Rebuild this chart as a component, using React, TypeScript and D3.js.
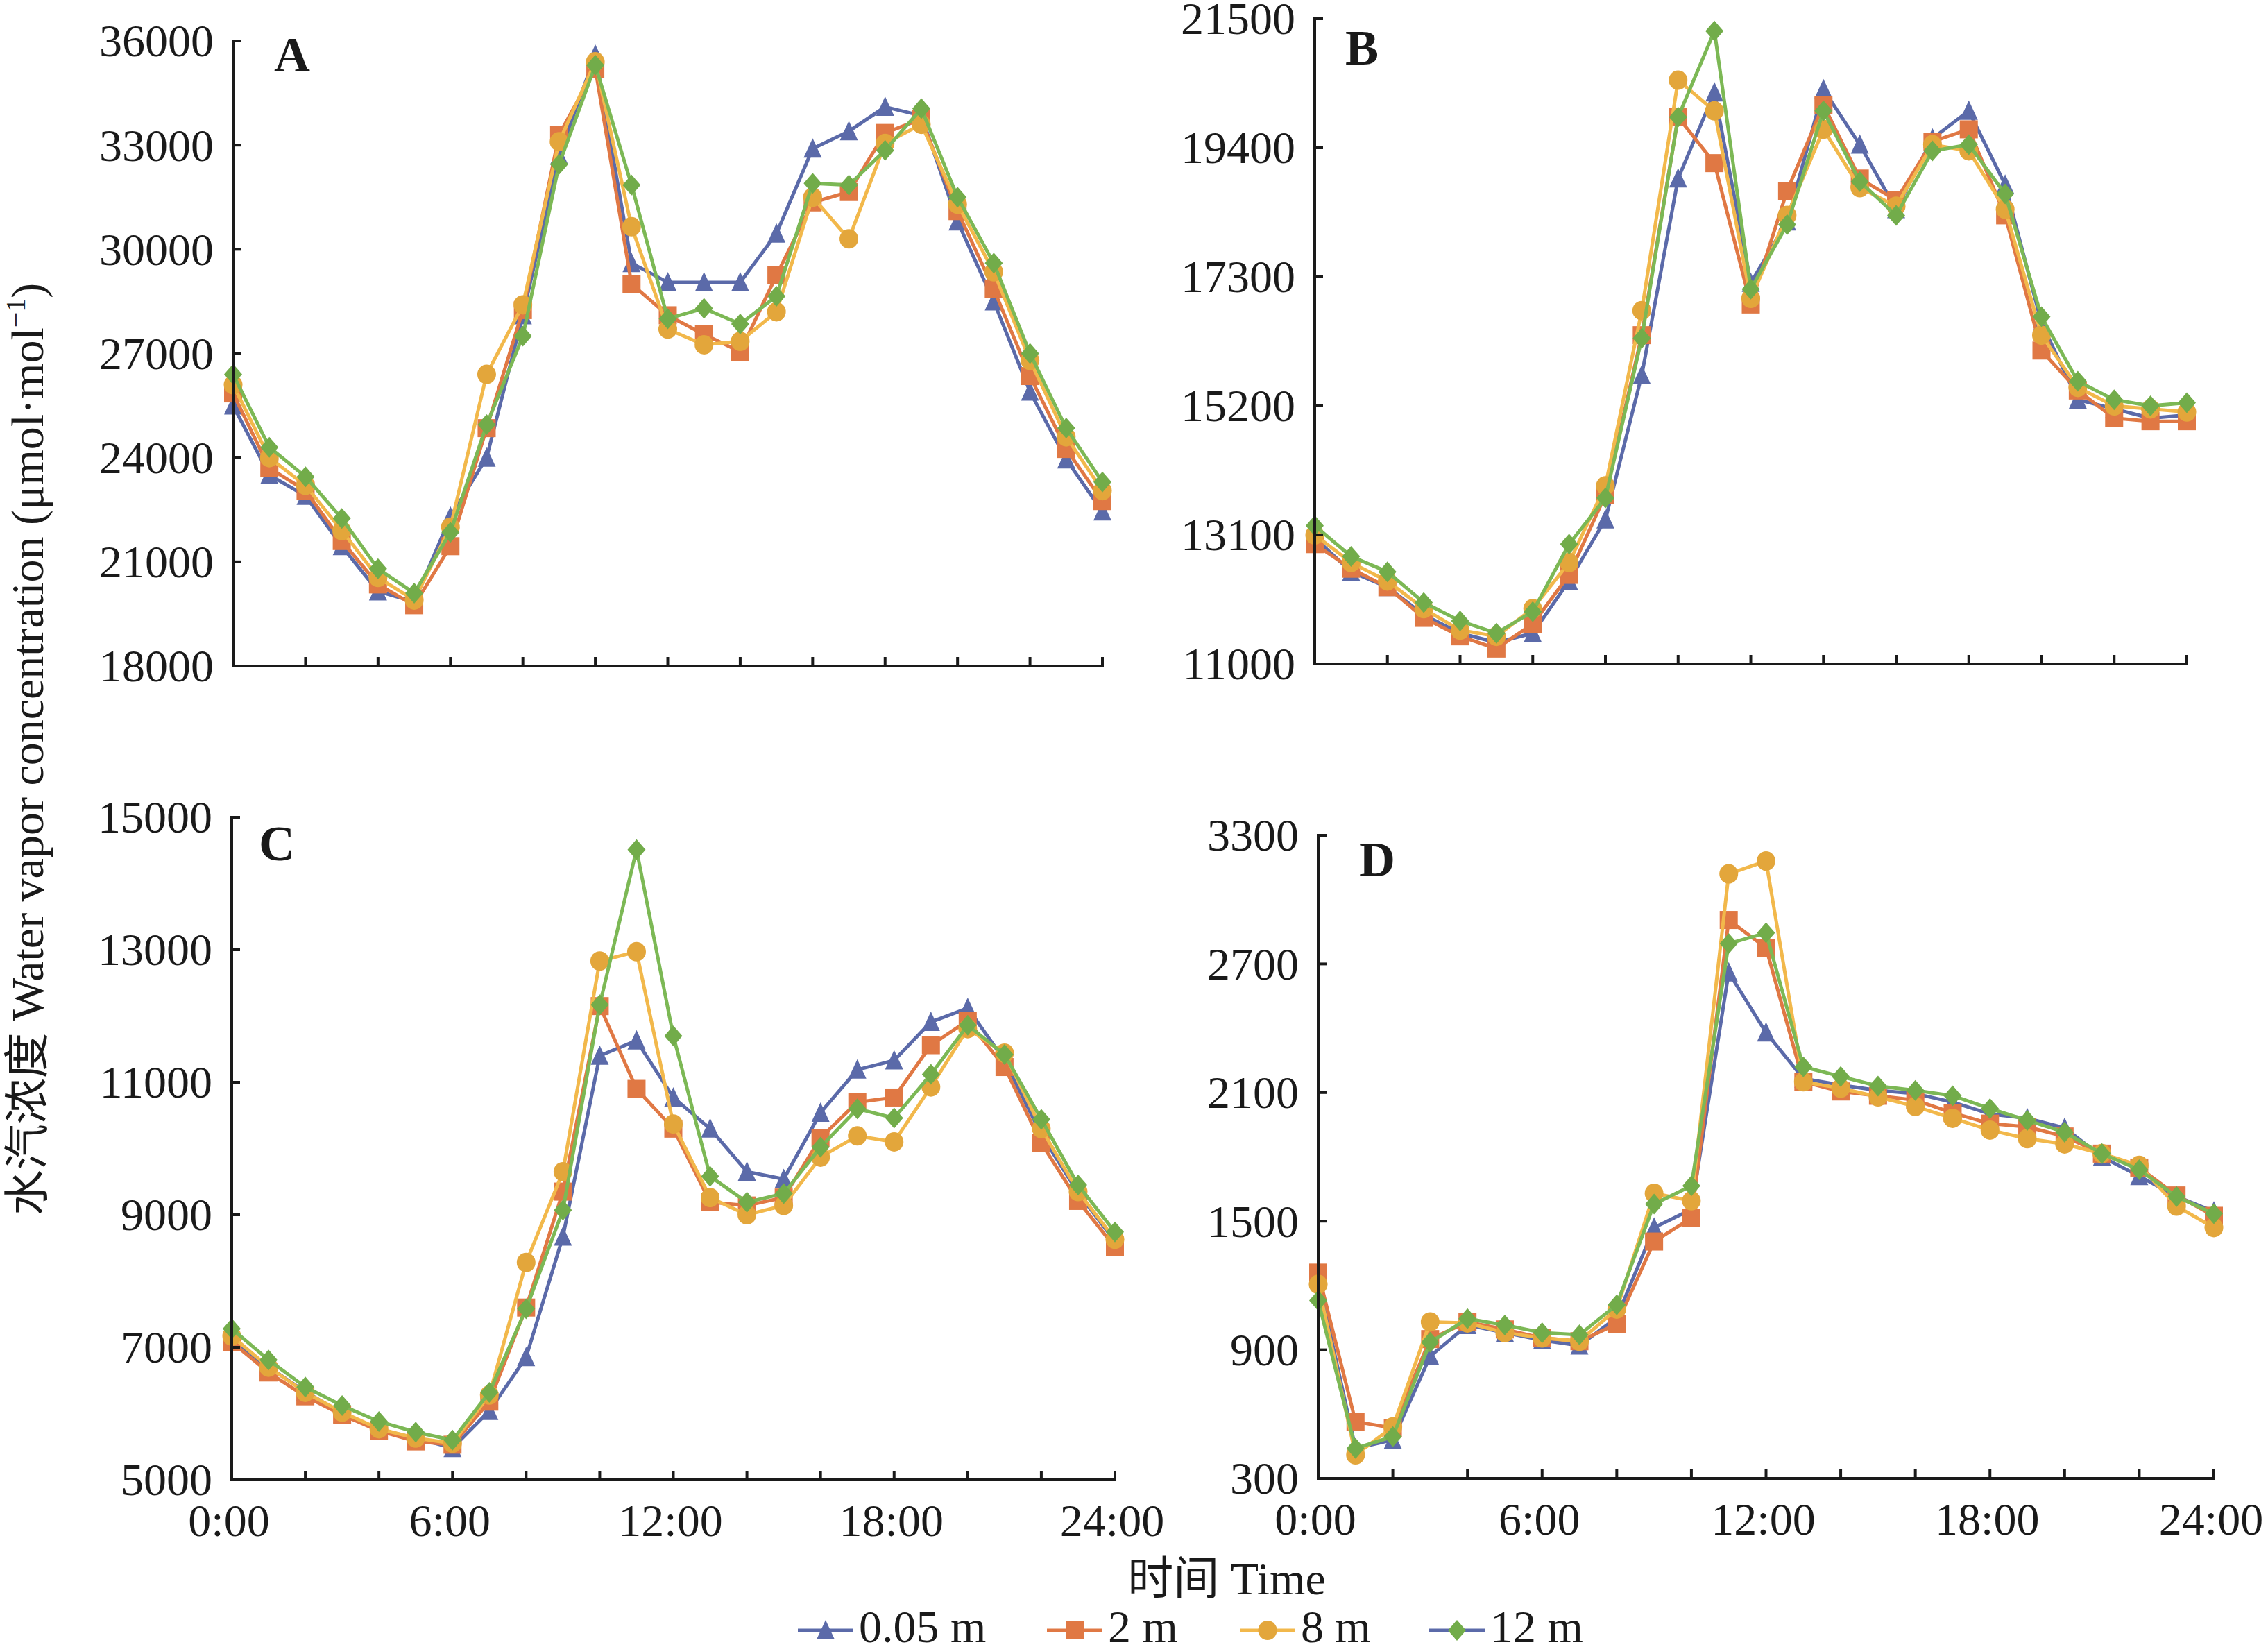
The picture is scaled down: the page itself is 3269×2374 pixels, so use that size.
import React from "react";
import * as d3 from "d3";

// hours of the day, 0:00 .. 24:00
const hours = [0, 1, 2, 3, 4, 5, 6, 7, 8, 9, 10, 11, 12, 13, 14, 15, 16, 17, 18, 19, 20, 21, 22, 23, 24];
const xTickLabels = ["0:00", "6:00", "12:00", "18:00", "24:00"];
const seriesNames = ["0.05 m", "2 m", "8 m", "12 m"];

// Panel A
const a005 = [25500, 23500, 22900, 21450, 20150, 19850, 22300, 24000, 28100, 32700, 35600, 29600, 29050, 29050, 29050, 30450, 32900, 33400, 34100, 33850, 30800, 28500, 25900, 23950, 22450];
const a2 = [25850, 23700, 23050, 21600, 20350, 19750, 21450, 24850, 28250, 33300, 35200, 29000, 28100, 27550, 27050, 29250, 31350, 31650, 33350, 33750, 31100, 28850, 26350, 24250, 22750];
const a8 = [26100, 24000, 23200, 21900, 20550, 19900, 22000, 26400, 28400, 33100, 35400, 30650, 27700, 27250, 27350, 28200, 31500, 30300, 33050, 33600, 31300, 29350, 26800, 24600, 23050];
const a12 = [26400, 24300, 23450, 22250, 20800, 20100, 21850, 24950, 27500, 32450, 35300, 31850, 28000, 28300, 27850, 28650, 31900, 31850, 32850, 34050, 31500, 29600, 27000, 24850, 23300];
const aTicks = [18000, 21000, 24000, 27000, 30000, 33000, 36000];

// Panel B
const b005 = [13050, 12500, 12250, 11800, 11500, 11350, 11500, 12350, 13350, 15700, 18900, 20300, 17200, 18200, 20350, 19450, 18400, 19550, 20000, 18800, 16550, 15300, 15150, 15000, 15050];
const b2 = [12950, 12550, 12250, 11750, 11450, 11250, 11650, 12450, 13750, 16350, 19900, 19150, 16850, 18700, 20100, 18900, 18550, 19500, 19700, 18300, 16100, 15450, 15000, 14950, 14950];
const b8 = [13100, 12650, 12350, 11900, 11550, 11450, 11900, 12650, 13900, 16750, 20500, 20000, 16950, 18300, 19700, 18750, 18450, 19450, 19350, 18400, 16350, 15500, 15200, 15150, 15100];
const b12 = [13250, 12750, 12500, 12000, 11700, 11500, 11850, 12950, 13700, 16300, 19900, 21300, 17100, 18150, 20000, 18850, 18300, 19350, 19450, 18650, 16650, 15600, 15300, 15200, 15250];
const bTicks = [11000, 13100, 15200, 17300, 19400, 21500];

// Panel C
const c005 = [7100, 6700, 6330, 6000, 5760, 5630, 5480, 6040, 6850, 8670, 11400, 11630, 10770, 10300, 9650, 9540, 10540, 11190, 11330, 11910, 12120, 11330, 10210, 9330, 8600];
const c2 = [7080, 6620, 6260, 5980, 5740, 5580, 5530, 6180, 7600, 9350, 12150, 10900, 10300, 9190, 9140, 9260, 10160, 10700, 10770, 11560, 11930, 11230, 10080, 9210, 8510];
const c8 = [7170, 6700, 6320, 6020, 5770, 5630, 5550, 6280, 8280, 9650, 12830, 12970, 10370, 9260, 9000, 9140, 9870, 10190, 10100, 10930, 11810, 11440, 10300, 9350, 8630];
const c12 = [7280, 6810, 6400, 6120, 5880, 5720, 5600, 6320, 7580, 9070, 12170, 14510, 11700, 9580, 9190, 9320, 10020, 10600, 10460, 11120, 11860, 11420, 10440, 9450, 8740];
const cTicks = [5000, 7000, 9000, 11000, 13000, 15000];

// Panel D
const d005 = [1230, 440, 480, 870, 1015, 980, 945, 920, 1050, 1470, 1555, 2660, 2380, 2165, 2135, 2110, 2095, 2055, 2000, 1980, 1935, 1800, 1710, 1615, 1545];
const d2 = [1260, 565, 535, 950, 1030, 995, 955, 940, 1020, 1405, 1515, 2905, 2775, 2150, 2105, 2085, 2065, 2005, 1955, 1940, 1895, 1815, 1750, 1620, 1525];
const d8 = [1205, 410, 540, 1030, 1025, 980, 955, 940, 1090, 1630, 1595, 3120, 3180, 2150, 2120, 2080, 2035, 1980, 1925, 1885, 1860, 1815, 1760, 1570, 1470];
const d12 = [1130, 440, 495, 935, 1045, 1015, 980, 970, 1110, 1580, 1665, 2795, 2845, 2220, 2175, 2130, 2110, 2085, 2025, 1970, 1915, 1815, 1740, 1615, 1535];
const dTicks = [300, 900, 1500, 2100, 2700, 3300];

const W = 3269;
const H = 2374;
const FONT = "'Liberation Serif', 'Times New Roman', 'Noto Sans CJK SC', serif";
const FS = 66;
const INK = "#1a1a1a";

const lineColors = ["#5b6aa9", "#e07844", "#f2b84b", "#7cb855"];
const markColors = ["#5b6aa9", "#e07844", "#e3a63b", "#72ac4a"];
const shapes = ["triangle", "square", "circle", "diamond"];

const panels = [
  { letter: "A", series: [a005, a2, a8, a12], ticks: aTicks, x0: 336, x1: 1589, yTop: 59, yBot: 960, lx: 395, ly: 103, xLabels: false },
  { letter: "B", series: [b005, b2, b8, b12], ticks: bTicks, x0: 1895, x1: 3152, yTop: 27, yBot: 957, lx: 1939, ly: 93, xLabels: false },
  { letter: "C", series: [c005, c2, c8, c12], ticks: cTicks, x0: 334, x1: 1607, yTop: 1178, yBot: 2133, lx: 373, ly: 1240, xLabels: true },
  { letter: "D", series: [d005, d2, d8, d12], ticks: dTicks, x0: 1900, x1: 3191, yTop: 1204, yBot: 2131, lx: 1959, ly: 1263, xLabels: true },
];

function Marker({ shape, x, y, color }: { shape: string; x: number; y: number; color: string }) {
  if (shape === "triangle") {
    return <path d={`M${x},${y - 15} L${x + 13},${y + 13} L${x - 13},${y + 13} Z`} fill={color} />;
  }
  if (shape === "square") {
    return <rect x={x - 13} y={y - 13} width={26} height={26} fill={color} />;
  }
  if (shape === "circle") {
    return <ellipse cx={x} cy={y} rx={13.5} ry={14} fill={color} />;
  }
  return <path d={`M${x},${y - 15} L${x + 13},${y} L${x},${y + 15} L${x - 13},${y} Z`} fill={color} />;
}

function Panel({ p }: { p: (typeof panels)[number] }) {
  const x = d3.scaleLinear().domain([0, 24]).range([p.x0, p.x1]);
  const y = d3
    .scaleLinear()
    .domain([p.ticks[0], p.ticks[p.ticks.length - 1]])
    .range([p.yBot, p.yTop]);
  const line = d3
    .line<number>()
    .x((_, i) => x(hours[i]))
    .y((d) => y(d));
  const xTicks = d3.range(2, 25, 2);

  return (
    <g>
      {p.series.map((s, k) => (
        <g key={k}>
          <path d={line(s) ?? ""} fill="none" stroke={lineColors[k]} strokeWidth={5} strokeLinejoin="round" />
          {s.map((v, i) => (
            <Marker key={i} shape={shapes[k]} x={x(hours[i])} y={y(v)} color={markColors[k]} />
          ))}
        </g>
      ))}
      {/* axes */}
      <line x1={p.x0} x2={p.x0} y1={p.yTop - 2} y2={p.yBot + 2} stroke={INK} strokeWidth={4} />
      <line x1={p.x0 - 2} x2={p.x1 + 2} y1={p.yBot} y2={p.yBot} stroke={INK} strokeWidth={4} />
      {p.ticks.map((t) => (
        <g key={t}>
          <line x1={p.x0} x2={p.x0 + 12} y1={y(t)} y2={y(t)} stroke={INK} strokeWidth={4} />
          <text
            x={p.x0 - 28}
            y={y(t)}
            dy="0.34em"
            textAnchor="end"
            fontFamily={FONT}
            fontSize={FS}
            fill={INK}
          >
            {t}
          </text>
        </g>
      ))}
      {xTicks.map((h) => (
        <line key={h} x1={x(h)} x2={x(h)} y1={p.yBot} y2={p.yBot - 13} stroke={INK} strokeWidth={4} />
      ))}
      {p.xLabels &&
        xTickLabels.map((lab, i) => (
          <text
            key={lab}
            x={x(i * 6) - 4}
            y={p.yBot + 81}
            textAnchor="middle"
            fontFamily={FONT}
            fontSize={FS}
            fill={INK}
          >
            {lab}
          </text>
        ))}
      <text x={p.lx} y={p.ly} fontFamily={FONT} fontSize={72} fontWeight="bold" fill={INK}>
        {p.letter}
      </text>
    </g>
  );
}

const legendX = [1150, 1509, 1787, 2060];

export default function App() {
  return (
    <svg
      width={W}
      height={H}
      viewBox={`0 0 ${W} ${H}`}
      style={{ position: "absolute", left: 0, top: 0, background: "#fff" }}
    >
      <rect width={W} height={H} fill="#fff" />
      {panels.map((p) => (
        <Panel key={p.letter} p={p} />
      ))}
      {/* y-axis title */}
      <text
        transform="translate(62,1080) rotate(-90)"
        textAnchor="middle"
        fontFamily={FONT}
        fontSize={FS}
        fill={INK}
      >
        水汽浓度 Water vapor concentration (μmol·mol
        <tspan fontSize={40} dy={-26}>−1</tspan>
        <tspan dy={26}>)</tspan>
      </text>
      {/* x-axis title */}
      <text x={1768} y={2298} textAnchor="middle" fontFamily={FONT} fontSize={FS} fill={INK}>
        时间 Time
      </text>
      {/* legend */}
      {seriesNames.map((name, k) => (
        <g key={name}>
          <line
            x1={legendX[k]}
            x2={legendX[k] + 80}
            y1={2350}
            y2={2350}
            stroke={k === 3 ? lineColors[0] : lineColors[k]}
            strokeWidth={5}
          />
          <Marker shape={shapes[k]} x={legendX[k] + 40} y={2350} color={markColors[k]} />
          <text x={legendX[k] + 88} y={2367} fontFamily={FONT} fontSize={FS} fill={INK}>
            {name}
          </text>
        </g>
      ))}
    </svg>
  );
}
